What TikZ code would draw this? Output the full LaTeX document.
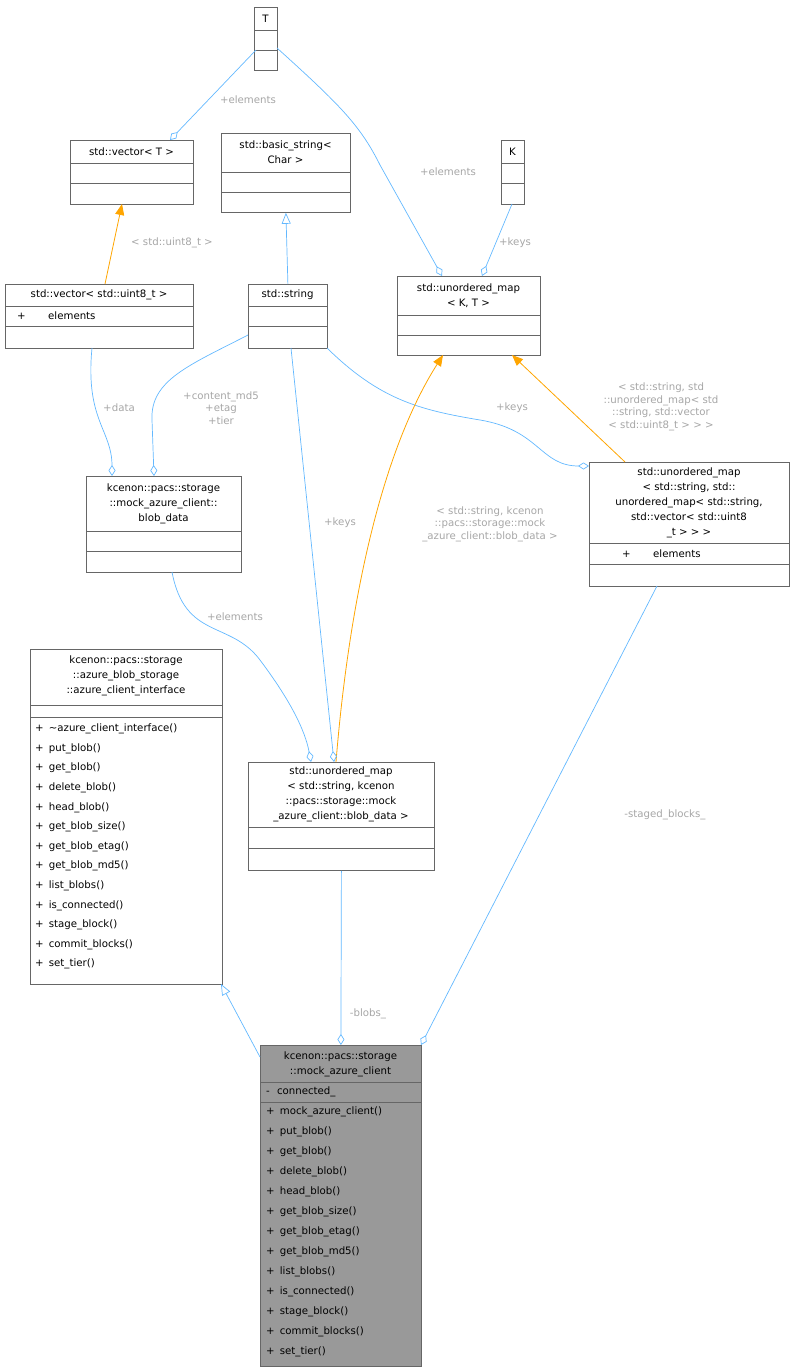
\documentclass[tikz,border=0pt]{standalone}
\usepackage{fontspec}
\setmainfont{DejaVu Sans}
\usetikzlibrary{arrows.meta}
\definecolor{boxc}{HTML}{666666}
\definecolor{edgeb}{HTML}{63B8FF}
\definecolor{edgeo}{HTML}{FFA500}
\definecolor{lblc}{HTML}{A6A6A6}
\definecolor{mockf}{HTML}{999999}
\tikzset{
 box/.style={draw=boxc, line width=0.8pt, inner sep=0pt, anchor=north west},
 ttl/.style={inner sep=0pt, align=center, font=\fontsize{10.2}{15}\selectfont},
 mem/.style={inner sep=0pt, anchor=west, font=\fontsize{10.2}{14}\selectfont},
 lbl/.style={inner sep=0pt, align=center, text=lblc, font=\fontsize{10.2}{12.5}\selectfont},
 agg/.style={draw=edgeb, line width=0.7pt, -{Diamond[open,length=11pt,width=7pt]}},
 inh/.style={draw=edgeb, line width=0.7pt, -{Triangle[open,length=11pt,width=9pt]}},
 tmpl/.style={draw=edgeo, line width=0.8pt, -{Triangle[length=11pt,width=9pt,fill=edgeo]}},
}
\newcommand\cbox[6]{\node[box, fill=#6, minimum width={#4pt-#2pt}, minimum height={#5pt-#3pt}] (#1) at (#2,#3) {};}
\newcommand\sepl[3]{\draw[boxc, line width=0.8pt] (#1,#3) -- (#2,#3);}
\begin{document}
\begin{tikzpicture}[x=1pt,y=-1pt]
\useasboundingbox (0,0) rectangle (795,1372);
% T
\cbox{T}{254}{7}{277}{70}{white}
\sepl{254}{277}{30}\sepl{254}{277}{50}
\node[ttl] (Tt) at (265.5,18.5) {T};
% vector<T>
\cbox{vecT}{70}{140}{193}{204}{white}
\sepl{70}{193}{163}\sepl{70}{193}{183}
\node[ttl] (vecTt) at (131.5,151.5) {std::vector< T >};
% basic_string
\cbox{bstr}{221}{133}{350}{212}{white}
\sepl{221}{350}{172}\sepl{221}{350}{192}
\node[ttl] (bstrt) at (285.5,152.5) {std::basic\_string<\\Char >};
% K
\cbox{K}{501}{140}{524}{204}{white}
\sepl{501}{524}{163}\sepl{501}{524}{183}
\node[ttl] (Kt) at (512.5,151.5) {K};
% unordered_map<K,T>
\cbox{umKT}{397}{276}{540}{355}{white}
\sepl{397}{540}{315}\sepl{397}{540}{335}
\node[ttl] (umKTt) at (468.5,295.5) {std::unordered\_map\\< K, T >};
% vector<uint8_t>
\cbox{vec8}{5}{284}{193}{348}{white}
\sepl{5}{193}{306}\sepl{5}{193}{326}
\node[ttl] (vec8t) at (99,295) {std::vector< std::uint8\_t >};
\node[mem] (vec8m) at (17,316) {+\hspace{2.2em}elements};
% std::string
\cbox{str}{248}{284}{327}{348}{white}
\sepl{248}{327}{306}\sepl{248}{327}{326}
\node[ttl] (strt) at (287.5,295) {std::string};
% blob_data
\cbox{bd}{86}{476}{241}{572}{white}
\sepl{86}{241}{531}\sepl{86}{241}{551}
\node[ttl] (bdt) at (163.5,503.5) {kcenon::pacs::storage\\::mock\_azure\_client::\\blob\_data};
% right map
\cbox{rm}{589}{462}{789}{586}{white}
\sepl{589}{789}{543}\sepl{589}{789}{564}
\node[ttl] (rmt) at (689,502.5) {std::unordered\_map\\< std::string, std::\\unordered\_map< std::string,\\ std::vector< std::uint8\\\_t > > >};
\node[mem] (rmm) at (622,553.5) {+\hspace{2.2em}elements};
% interface
\cbox{ifc}{30}{649}{222}{984}{white}
\sepl{30}{222}{705}\sepl{30}{222}{717}
\node[ttl] (ifct) at (126,676) {kcenon::pacs::storage\\::azure\_blob\_storage\\::azure\_client\_interface};
\foreach \m [count=\i] in {\textasciitilde azure\_client\_interface(),put\_blob(),get\_blob(),delete\_blob(),head\_blob(),get\_blob\_size(),get\_blob\_etag(),get\_blob\_md5(),list\_blobs(),is\_connected(),stage\_block(),commit\_blocks(),set\_tier()}
 \node[mem] (ifc\i) at (35,{709.5+\i*19.6}) {+\hspace{0.5em}\m};
% blob map
\cbox{bm}{248}{762}{434}{870}{white}
\sepl{248}{434}{827}\sepl{248}{434}{848}
\node[ttl] (bmt) at (341,794.5) {std::unordered\_map\\< std::string, kcenon\\::pacs::storage::mock\\\_azure\_client::blob\_data >};
% mock
\cbox{mock}{260}{1045}{421}{1366}{mockf}
\sepl{260}{421}{1082}\sepl{260}{421}{1102}
\node[ttl] (mockt) at (340.5,1064) {kcenon::pacs::storage\\::mock\_azure\_client};
\node[mem] (mockc) at (266,1092) {-\hspace{0.7em}connected\_};
\foreach \m [count=\i] in {mock\_azure\_client(),put\_blob(),get\_blob(),delete\_blob(),head\_blob(),get\_blob\_size(),get\_blob\_etag(),get\_blob\_md5(),list\_blobs(),is\_connected(),stage\_block(),commit\_blocks(),set\_tier()}
 \node[mem] (mock\i) at (266,{1092+\i*20}) {+\hspace{0.5em}\m};
% edges
\draw[agg] (256,50) -- (170,140);
\node[lbl] (l1) at (248,100) {+elements};
\draw[agg] (277,48) .. controls (340,105) and (360,125) .. (380,165) -- (442,276);
\node[lbl] (l2) at (448,172) {+elements};
\draw[agg] (512,204) -- (482,276);
\node[lbl] (l3) at (515,243) {+keys};
\draw[inh] (str.north) -- (bstr.south);
\draw[tmpl] (105,284) -- (122,204);
\node[lbl] (l4) at (172,243) {< std::uint8\_t >};
\draw[agg] (92,348) .. controls (85,420) and (112,430) .. (112,476);
\node[lbl] (l5) at (119,408) {+data};
\draw[agg] (248,335) .. controls (190,365) and (150,380) .. (152,420) -- (154,476);
\node[lbl] (l6) at (221,408) {+content\_md5\\+etag\\+tier};
\draw[agg] (327,348) .. controls (380,400) and (420,410) .. (480,420) .. controls (540,430) and (540,466) .. (589,466);
\node[lbl] (l7) at (512,408) {+keys};
\draw[tmpl] (625,462) -- (512,355);
\node[lbl] (l8) at (661,407) {< std::string, std\\::unordered\_map< std\\::string, std::vector\\< std::uint8\_t > > >};
\draw[tmpl] (336,762) .. controls (345,650) and (370,470) .. (443,355);
\node[lbl] (l9) at (490,524) {< std::string, kcenon\\::pacs::storage::mock\\\_azure\_client::blob\_data >};
\draw[agg] (291,348) -- (334,762);
\node[lbl] (l10) at (340,523) {+keys};
\draw[agg] (172,572) .. controls (185,640) and (230,620) .. (260,660) .. controls (290,700) and (305,730) .. (311,762);
\node[lbl] (l11) at (235,617) {+elements};
\draw[inh] (260,1057) -- (221,984);
\draw[agg] (bm.south) -- (mock.north);
\node[lbl] (l12) at (368,1014) {-blobs\_};
\draw[agg] (657,586) -- (421,1045);
\node[lbl] (l13) at (665,815) {-staged\_blocks\_};
\end{tikzpicture}
\end{document}
